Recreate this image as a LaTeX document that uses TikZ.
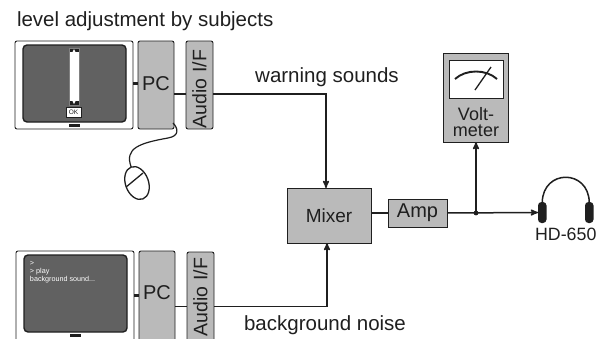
\documentclass[tikz,border=0pt]{standalone}
\usepackage{fontspec}
\setmainfont{Liberation Sans}
\usetikzlibrary{arrows,shapes,positioning,calc}

\begin{document}
\begin{tikzpicture}[x=1pt,y=1pt,>=stealth',node distance=12pt,inner sep=0pt,outer sep=0pt]
  \definecolor{boxgray}{gray}{0.73}
  \definecolor{screengray}{gray}{0.38}
  \definecolor{inkblack}{gray}{0.12}
  \tikzstyle{every node}=[text=inkblack,font=\fontsize{20.5}{24}\selectfont]
  \tikzstyle{device}=[rectangle,rounded corners=2pt,draw=inkblack,line width=0.9pt,fill=boxgray,anchor=north west,font=\fontsize{20}{24}\selectfont]
  \tikzstyle{pcbox}=[device,minimum width=36pt,minimum height=88pt]
  \tikzstyle{audiobox}=[device,minimum width=27pt,minimum height=88pt]
  \tikzstyle{monitor}=[rectangle,rounded corners=2pt,draw=inkblack,line width=0.9pt,fill=white,minimum width=118pt,minimum height=88pt]
  \tikzstyle{screen}=[rectangle,rounded corners=4pt,draw=inkblack,line width=1.4pt,fill=screengray,minimum width=103pt,minimum height=77pt]
  \tikzstyle{foot}=[rectangle,fill=inkblack,minimum width=11pt,minimum height=3pt]
  \tikzstyle{plainbox}=[rectangle,draw=inkblack,line width=0.9pt,fill=boxgray,font=\fontsize{19}{24}\selectfont]
  \tikzstyle{pad}=[rectangle,rounded corners=3.5pt,fill=inkblack,minimum width=8.5pt,minimum height=21pt]
  \tikzstyle{wire}=[line width=1.5pt,draw=inkblack]
  \tikzstyle{link}=[line width=3.5pt,draw=inkblack]
  \tikzstyle{audiolbl}=[font=\fontsize{19.5}{24}\selectfont]

  \useasboundingbox (0,0) rectangle (606,-338);
  \begin{scope}
    % Upper computer
    \node [monitor,anchor=north west] (monA) at (15,-41) {};
    \node [screen,anchor=north west] (scrA) at (23,-45) {};
    \node [foot,below = 2pt of scrA] (footA) {};
    \node [pcbox,right = 5pt of monA.north east,anchor=north west] (pcA) {};
    \node [font=\fontsize{20}{24}\selectfont] (pcAlbl) at (156,-84) {PC};
    \node [audiobox,right = 12pt of pcA.north east,anchor=north west] (audA) {};
    \node [audiolbl] (audAlbl) at (199.5,-89) {\rotatebox{90}{Audio I/F}};
    \node [rectangle,draw=black!50,line width=0.5pt,fill=white,minimum width=10pt,minimum height=57pt,anchor=north west] (slider) at (69,-48) {};
    \node [rectangle,draw=inkblack,line width=0.5pt,fill=white,minimum width=15pt,minimum height=10pt,font=\fontsize{6.5}{7}\selectfont,anchor=north west] (okbtn) at (66,-107) {OK};
    % Lower computer
    \node [monitor,minimum height=92pt,anchor=north west] (monB) at (16,-251) {};
    \node [screen,anchor=north west] (scrB) at (24,-255) {};
    \node [foot,below = 2pt of scrB] (footB) {};
    \node [pcbox,minimum height=92pt,right = 5pt of monB.north east,anchor=north west] (pcB) {};
    \node [font=\fontsize{20}{24}\selectfont] (pcBlbl) at (157,-293) {PC};
    \node [audiobox,minimum height=92pt,anchor=north west] (audB) at (187,-252) {};
    \node [audiolbl] (audBlbl) at (200.5,-297) {\rotatebox{90}{Audio I/F}};
    \node [anchor=north west,text=white,font=\fontsize{7.2}{8.3}\selectfont,align=left] (console) at (30,-261) {>\\> play\\background sound...};
    % Signal path
    \node [plainbox,minimum width=84pt,minimum height=55pt,anchor=north west] (mixer) at (287,-188) {Mixer};
    \node [plainbox,minimum width=59pt,minimum height=28pt,anchor=north west,font=\fontsize{20}{24}\selectfont] (amp) at (388,-199) {Amp};
    \coordinate [right = 29pt of amp] (split);
    \node [plainbox,minimum width=65pt,minimum height=89pt,anchor=north west] (meter) at (443,-53) {};
    \node [rectangle,draw=inkblack,line width=0.9pt,fill=white,minimum width=54pt,minimum height=38pt,anchor=north west] (dial) at (449,-60) {};
    \node [align=center,font=\fontsize{18}{16.5}\selectfont,below = 9pt of dial] (meterlbl) {Volt-\\meter};
    \node [pad,anchor=north west] (padL) at (538,-202) {};
    \node [pad,anchor=north west] (padR) at (585,-202) {};
    \node [below = 5pt of $(padL.south)!0.5!(padR.south)$,font=\fontsize{17.8}{20}\selectfont] (phones) {HD-650};
    % Labels
    \node [anchor=west] (title) at (17,-21) {level adjustment by subjects};
    \node (warnlbl) at (327,-77) {warning sounds};
    \node (noiselbl) at (325,-325) {background noise};
    % Mouse
    \node [ellipse,draw=inkblack,line width=1.3pt,minimum width=23pt,minimum height=34pt,rotate=20] (mouse) at (137,-183) {};
  \end{scope}

  \begin{scope}
    \coordinate (monAout) at ($(monA.north east)+(0,-42.5)$);
    \coordinate (monBout) at ($(monB.north east)+(0,-44.5)$);
    \coordinate (pcAout) at ($(pcA.north east)+(0,-53)$);
    \coordinate (pcBout) at ($(pcB.north east)+(0,-55.5)$);
    \path [link] (monAout) -- (monAout -| pcA.west);
    \path [link] (monBout) -- (monBout -| pcB.west);
    \path [wire] (pcAout) -- (pcAout -| audA.west);
    \path [wire] (pcBout) -- (pcBout -| audB.west);
    \path [wire,->] (pcAout -| audA.east) -| ($(mixer.north)+(-3,0)$);
    \path [wire,->] (pcBout -| audB.east) -| ($(mixer.south)+(-2,0)$);
    \path [wire] (amp.west -| mixer.east) -- (amp.west);
    \path [wire,->] (amp.east) -- (padL.west);
    \path [wire,->] (split) -- (split |- meter.south);
    \fill [inkblack] (split) circle (2.4);
    \draw [inkblack,line width=1.5pt] (padL.north) .. controls ($(padL.north)+(1,33)$) and ($(padR.north)+(-1,33)$) .. (padR.north);
    % Mouse cable and button line
    \draw [inkblack,line width=1.2pt] (pcA.south east) ++(-1,6) .. controls (178,-128) and (180,-136) .. (168,-138) .. controls (140,-143) and (124,-148) .. (mouse.north);
    \coordinate (mousebtn) at (143,-173);
    \draw [inkblack,line width=1.3pt] (mouse.west) -- (mousebtn);
    % Dial
    \draw [inkblack,line width=1.9pt] (455,-79) .. controls (466,-69) and (486,-69) .. (497,-79);
    \draw [inkblack,line width=1.3pt] (475,-90) -- (491,-67);
    % Slider caps
    \fill [inkblack] (69.5,-48.5) rectangle (78.5,-52);
    \fill [inkblack] (69.5,-101) rectangle (78.5,-104.5);
    \fill [white] (74,-49) -- (72.5,-52) -- (75.5,-52) -- cycle;
    \fill [white] (74,-104) -- (72.5,-101) -- (75.5,-101) -- cycle;
  \end{scope}
\end{tikzpicture}
\end{document}
